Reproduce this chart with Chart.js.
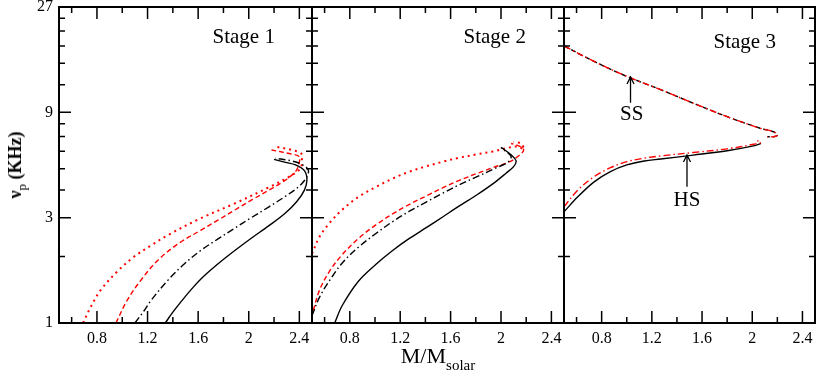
<!DOCTYPE html>
<html lang="en">
<head>
<meta charset="UTF-8">
<title>Spin frequency vs mass</title>
<script src="https://cdn.jsdelivr.net/npm/chart.js"></script>
<style>
  body { margin: 0; background: #fff; font-family: "Liberation Serif", "Times New Roman", serif; }
  #wrap { position: relative; width: 817px; height: 375px; overflow: hidden; }
  canvas { position: absolute; top: 0; }
  .ylab { position: absolute; left: 15px; top: 165px; transform: translate(-50%, -50%) rotate(-90deg);
          font-size: 18px; font-weight: bold; white-space: nowrap; line-height: 1; }
  .xlab { position: absolute; left: 438px; top: 345px; transform: translateX(-50%);
          font-size: 22px; white-space: nowrap; line-height: 1; }
  .sb { position: relative; top: 7px; font-size: 15px; }
  .ylab .sb { top: 5px; font-size: 13px; font-weight: normal; }
</style>
</head>
<body>
<div id="wrap">
  <canvas id="stage1" width="316" height="375" style="left:0px"></canvas>
  <canvas id="stage2" width="260" height="375" style="left:308px"></canvas>
  <canvas id="stage3" width="257" height="375" style="left:560px"></canvas>
  <div class="ylab">&nu;<span class="sb">p</span> (KHz)</div>
  <div class="xlab">M/M<span class="sb">solar</span></div>
</div>

<script>
// axis ranges and tick values
const massMin = 0.5, massMax = 2.5;
const nuMin = 1, nuMax = 27;
const majorMass = [0.8, 1.2, 1.6, 2.0, 2.4];
const minorMass = [0.6, 1.0, 1.4, 1.8, 2.2];
const majorNu = [1, 3, 9, 27];
const minorNu = [2, 4, 5, 6, 7, 8, 12, 15, 18, 21, 24];

// [M/Msolar, nu_p (KHz)]
// Stage 1
const s1Solid = [[1.34,1],[1.40,1.12],[1.48,1.28],[1.56,1.45],[1.64,1.62],[1.76,1.86],[1.89,2.13],[2.02,2.42],
  [2.16,2.76],[2.29,3.15],[2.38,3.55],[2.44,4.00],[2.46,4.45],[2.44,4.90],[2.37,5.20],[2.29,5.34],[2.20,5.51]];
const s1DashDot = [[1.10,1],[1.17,1.13],[1.23,1.27],[1.36,1.56],[1.49,1.85],[1.62,2.13],[1.76,2.41],[1.89,2.69],
  [2.02,3.00],[2.16,3.36],[2.29,3.75],[2.40,4.17],[2.46,4.60],[2.47,4.94],[2.42,5.23],[2.34,5.42],[2.21,5.58]];
const s1Dashed = [[0.95,1],[1.04,1.27],[1.15,1.57],[1.28,1.92],[1.44,2.28],[1.62,2.63],[1.76,2.93],[1.89,3.25],
  [2.02,3.60],[2.16,4.00],[2.29,4.44],[2.37,4.85],[2.39,5.11],[2.40,5.66],[2.34,5.82],[2.18,6.08]];
const s1Dotted = [[0.69,1],[0.75,1.18],[0.83,1.41],[0.96,1.71],[1.09,1.99],[1.23,2.25],[1.36,2.50],[1.62,2.98],
  [1.89,3.48],[2.16,4.12],[2.32,4.60],[2.41,5.02],[2.42,5.47],[2.42,5.82],[2.34,6.08],[2.21,6.29]];

// Stage 2
const s2Solid = [[0.68,1],[0.74,1.20],[0.87,1.55],[1.01,1.85],[1.14,2.13],[1.27,2.41],[1.41,2.71],[1.54,3.03],
  [1.67,3.39],[1.81,3.81],[1.94,4.29],[2.04,4.77],[2.10,5.11],[2.12,5.43],[2.08,5.78],[2.03,6.08],[2.00,6.25]];
const s2DashDot = [[0.50,1.08],[0.56,1.31],[0.64,1.56],[0.74,1.87],[0.87,2.21],[1.01,2.55],[1.14,2.88],[1.27,3.20],
  [1.41,3.54],[1.54,3.88],[1.67,4.23],[1.81,4.60],[1.94,4.98],[2.06,5.38],[2.08,5.67],[2.04,5.98],[2.00,6.19]];
const s2Dashed = [[0.51,1.14],[0.56,1.41],[0.64,1.72],[0.74,2.04],[0.87,2.42],[1.01,2.79],[1.14,3.12],[1.27,3.44],
  [1.41,3.77],[1.54,4.10],[1.67,4.43],[1.81,4.76],[1.94,5.07],[2.07,5.38],[2.15,5.78],[2.18,6.08],[2.14,6.35],[2.08,6.50]];
const s2Dotted = [[0.50,2.06],[0.56,2.46],[0.64,2.84],[0.74,3.26],[0.87,3.73],[1.01,4.14],[1.14,4.51],[1.27,4.84],
  [1.41,5.13],[1.54,5.38],[1.67,5.61],[1.81,5.81],[1.94,5.99],[2.04,6.19],[2.14,6.30],[2.18,6.10],[2.16,6.50],[2.10,6.60]];

// Stage 3
const s3HsSolid = [[0.50,3.19],[0.61,3.73],[0.74,4.36],[0.87,4.85],[1.00,5.20],[1.14,5.42],[1.27,5.53],[1.53,5.76],
  [1.80,6.03],[2.01,6.34],[2.07,6.51]];
const s3HsDashDot = [[0.50,3.36],[0.61,4.00],[0.74,4.60],[0.87,5.05],[1.00,5.38],[1.14,5.58],[1.27,5.71],[1.53,5.92],
  [1.80,6.15],[2.01,6.45],[2.07,6.57],[2.04,6.70]];
const s3SsDashed = [[0.50,18.0],[0.74,15.3],[1.00,13.1],[1.27,11.4],[1.53,9.9],[1.80,8.6],[2.07,7.6],[2.17,7.35],
  [2.20,7.10],[2.17,6.98],[2.12,6.98]];
const s3SsDashDot = [[0.50,18.0],[0.74,15.3],[1.00,13.1],[1.27,11.4],[1.53,9.9],[1.80,8.6],[2.07,7.6],[2.17,7.35],
  [2.20,7.10],[2.17,6.98],[2.12,6.98]];

const styles = {
  solid:   { color: '#000', dash: [] },
  dashDot: { color: '#000', dash: [7, 3, 1.5, 3] },
  dashed:  { color: '#000', dash: [5, 3] },
  redDashed:  { color: '#ff0000', dash: [5, 3] },
  redDotted:  { color: '#ff0000', dash: [2, 4] },
  redDashDot: { color: '#ff0000', dash: [7, 3, 1.5, 3] }
};

function series(points, style) {
  const s = styles[style];
  return {
    data: points.map(p => ({ x: p[0], y: p[1] })),
    borderColor: s.color,
    borderDash: s.dash,
    borderWidth: style === 'redDotted' ? 2 : 1.4,
    pointRadius: 0,
    tension: 0.35,
    fill: false
  };
}

const font = { family: '"Liberation Serif", "Times New Roman", serif', size: 16 };

// inward ticks, frame and the text notes
function framePlugin(notes) {
  return {
    id: 'frame',
    afterDatasetsDraw(chart) {
      const { ctx, chartArea: a, scales: { x, y } } = chart;
      ctx.save();
      ctx.strokeStyle = '#000';
      ctx.lineWidth = 1.5;
      ctx.beginPath();
      const tx = (vals, len) => vals.forEach(v => {
        const px = x.getPixelForValue(v);
        ctx.moveTo(px, a.bottom); ctx.lineTo(px, a.bottom - len);
        ctx.moveTo(px, a.top); ctx.lineTo(px, a.top + len);
      });
      const ty = (vals, len) => vals.forEach(v => {
        const py = y.getPixelForValue(v);
        ctx.moveTo(a.left, py); ctx.lineTo(a.left + len, py);
        ctx.moveTo(a.right, py); ctx.lineTo(a.right - len, py);
      });
      tx(majorMass, 12); tx(minorMass, 6);
      ty(majorNu, 12); ty(minorNu, 6);
      ctx.stroke();
      ctx.lineWidth = 2;
      ctx.strokeRect(a.left, a.top, a.right - a.left, a.bottom - a.top);

      ctx.fillStyle = '#000';
      ctx.font = '21px "Liberation Serif", "Times New Roman", serif';
      ctx.textAlign = 'center';
      ctx.textBaseline = 'middle';
      notes.texts.forEach(t => {
        ctx.fillText(t.text, x.getPixelForValue(t.m), y.getPixelForValue(t.nu));
      });
      ctx.lineWidth = 1.3;
      notes.arrows.forEach(r => {
        const px = x.getPixelForValue(r.m);
        const y0 = y.getPixelForValue(r.from), y1 = y.getPixelForValue(r.to);
        ctx.beginPath();
        ctx.moveTo(px, y0); ctx.lineTo(px, y1);
        ctx.moveTo(px - 3.5, y1 + 7); ctx.lineTo(px, y1); ctx.lineTo(px + 3.5, y1 + 7);
        ctx.stroke();
      });
      ctx.restore();
    }
  };
}

function makeChart(id, datasets, notes, showY, pad) {
  return new Chart(document.getElementById(id), {
    type: 'line',
    data: { datasets: datasets },
    options: {
      responsive: false,
      animation: false,
      layout: { padding: { top: 7, bottom: 0, left: pad[0], right: pad[1] } },
      plugins: { legend: { display: false }, tooltip: { enabled: false } },
      scales: {
        x: {
          type: 'linear', min: massMin, max: massMax,
          grid: { display: false, drawTicks: false },
          border: { display: false },
          ticks: { font: font, color: '#000', padding: 6, maxRotation: 0,
                   callback: v => String(Math.round(v * 10) / 10) },
          afterBuildTicks: s => { s.ticks = majorMass.map(v => ({ value: v })); },
          afterFit: s => { s.height = 52; s.paddingLeft = 0; s.paddingRight = 0; }
        },
        y: {
          type: 'logarithmic', min: nuMin, max: nuMax, display: showY,
          grid: { display: false, drawTicks: false },
          border: { display: false },
          ticks: { font: font, color: '#000', padding: 6, callback: v => String(v) },
          afterBuildTicks: s => { s.ticks = majorNu.map(v => ({ value: v })); },
          afterFit: s => { s.width = showY ? 59 : 0; s.paddingTop = 0; s.paddingBottom = 0; }
        }
      }
    },
    plugins: [framePlugin(notes)]
  });
}

makeChart('stage1', [
  series(s1Solid, 'solid'), series(s1DashDot, 'dashDot'),
  series(s1Dashed, 'redDashed'), series(s1Dotted, 'redDotted')
], { texts: [{ text: 'Stage 1', m: 1.96, nu: 19.6 }], arrows: [] }, true, [0, 4]);

makeChart('stage2', [
  series(s2Solid, 'solid'), series(s2DashDot, 'dashDot'),
  series(s2Dashed, 'redDashed'), series(s2Dotted, 'redDotted')
], { texts: [{ text: 'Stage 2', m: 1.95, nu: 19.6 }], arrows: [] }, false, [4, 4]);

makeChart('stage3', [
  series(s3SsDashDot, 'redDashDot'), series(s3HsDashDot, 'redDashDot'),
  series(s3SsDashed, 'dashed'), series(s3HsSolid, 'solid')
], {
  texts: [
    { text: 'Stage 3', m: 1.94, nu: 18.6 },
    { text: 'SS', m: 1.04, nu: 8.77 },
    { text: 'HS', m: 1.48, nu: 3.60 }
  ],
  arrows: [
    { m: 1.03, from: 9.94, to: 13.0 },
    { m: 1.48, from: 4.14, to: 5.77 }
  ]
}, false, [4, 2]);
</script>
</body>
</html>
